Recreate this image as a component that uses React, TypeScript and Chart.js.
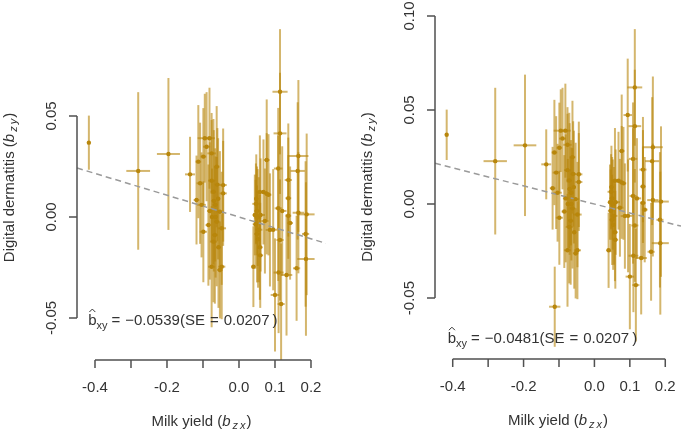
import React, { useEffect, useRef } from "react";
import { Chart, registerables } from "chart.js";
Chart.register(...registerables);

const FONT = '"Liberation Sans", Arial, Helvetica, sans-serif';
const TEXT = "#333333";
const AXIS = "#505050";
const BAR = "rgba(184,134,11,0.6)";
const DOT = "#b8860b";
const REG = "#9a9a9a";

// Shared instruments: milk yield effect (b_zx) and digital dermatitis effect (b_zy)
const milkYield = [
  -0.417, -0.28, -0.196,
  -0.136, -0.095, -0.082, -0.09, -0.076, -0.113, -0.099, -0.108, -0.118, -0.104,
  -0.062, -0.044, -0.044, -0.053, -0.062, -0.048, -0.099, -0.067, -0.076, -0.048,
  -0.053, -0.071, -0.076, -0.081, -0.085, -0.071, -0.066, -0.058, -0.075,
  -0.065, -0.057, -0.07, -0.06,
  0.114, 0.114, 0.165, 0.163, 0.077, 0.109, 0.137, 0.137, 0.058, 0.068, 0.077,
  0.109, 0.165, 0.188, 0.185, 0.186, 0.16, 0.132, 0.1, 0.117, 0.04, 0.086, 0.114,
  0.142, 0.137, 0.047, 0.05, 0.052, 0.046, 0.055, 0.05, 0.058, 0.06, 0.095, 0.12, 0.072,
  0.11, 0.059, 0.082, 0.048, 0.053, 0.044,
];
const milkYieldErr = [
  0.003, 0.033, 0.032,
  0.014, 0.02, 0.015, 0.01, 0.012, 0.008, 0.008, 0.01, 0.008, 0.012,
  0.008, 0.01, 0.01, 0.01, 0.008, 0.012, 0.01, 0.008, 0.01, 0.01,
  0.008, 0.008, 0.01, 0.008, 0.008, 0.01, 0.008, 0.006, 0.006,
  0.006, 0.006, 0.006, 0.008,
  0.021, 0.018, 0.028, 0.02, 0.008, 0.012, 0.01, 0.008, 0.01, 0.01, 0.008,
  0.01, 0.016, 0.022, 0.01, 0.024, 0.01, 0.016, 0.012, 0.01, 0.006, 0.012, 0.01,
  0.008, 0.008, 0.01, 0.008, 0.01, 0.008, 0.01, 0.008, 0.008, 0.012, 0.012, 0.012, 0.01,
  0.014, 0.008, 0.008, 0.006, 0.006, 0.006,
];
const dermatitis = [
  0.0368, 0.0228, 0.0312,
  0.0211, 0.039, 0.039, 0.0348, 0.0315, 0.0274, 0.0299, 0.0167, 0.0084, 0.006,
  0.0249, 0.0158, 0.0117, 0.0026, -0.0023, -0.0056, -0.0073, -0.0089, -0.0246, -0.0246,
  -0.0262, 0.0125, 0.018, 0.003, -0.004, -0.0122, 0.006, 0.009, 0.0,
  0.0, -0.015, 0.008, 0.016,
  0.062, 0.0414, 0.0302, 0.0228, 0.0282, 0.024, 0.0183, 0.0093, 0.0124, 0.0124, 0.0115,
  0.0043, 0.0021, 0.0013, -0.0084, -0.0208, -0.0254, -0.0287, -0.0386, -0.0431, -0.0246, -0.0064, -0.0114,
  -0.003, 0.0006, 0.0065, 0.003, -0.0003, -0.0036, -0.0063, -0.0084, -0.015, 0.001, -0.0063, 0.003, -0.002,
  -0.0275, -0.019, 0.011, 0.009, -0.011, 0.001,
];
const dermatitisErr = [
  0.0134, 0.039, 0.0376,
  0.0186, 0.022, 0.025, 0.027, 0.02, 0.028, 0.024, 0.03, 0.022, 0.026,
  0.03, 0.028, 0.026, 0.03, 0.032, 0.028, 0.025, 0.034, 0.03, 0.026,
  0.024, 0.036, 0.03, 0.034, 0.03, 0.03, 0.028, 0.03, 0.024,
  0.03, 0.03, 0.035, 0.028,
  0.031, 0.03, 0.0376, 0.034, 0.03, 0.03, 0.028, 0.03, 0.028, 0.026, 0.03,
  0.036, 0.03, 0.04, 0.036, 0.038, 0.026, 0.03, 0.028, 0.03, 0.02, 0.028, 0.03,
  0.028, 0.03, 0.02, 0.022, 0.024, 0.022, 0.026, 0.024, 0.026, 0.028, 0.03, 0.032, 0.026,
  0.03, 0.026, 0.03, 0.022, 0.024, 0.02,
];

// Instruments only present in the right panel
const extraMilkYield = [-0.112, 0.094];
const extraMilkYieldErr = [0.016, 0.012];
const extraDermatitis = [-0.0546, 0.0473];
const extraDermatitisErr = [0.0213, 0.03];

const xTicks = [-0.4, -0.3, -0.2, -0.1, 0, 0.1, 0.2];
const xTickLabels = ["-0.4", "", "-0.2", "", "0.0", "0.1", "0.2"];
const yTicksLeft = [-0.05, 0, 0.05];
const yTickLabelsLeft = ["-0.05", "0.00", "0.05"];
const yTicksRight = [-0.05, 0, 0.05, 0.1];
const yTickLabelsRight = ["-0.05", "0.00", "0.05", "0.10"];

const slopes = [-0.0539, -0.0481];
const slopeLabels = ["\u22120.0539", "\u22120.0481"];
const seLabels = ["0.0207", "0.0207"];

type Panel = {
  width: number;
  pad: { left: number; right: number; top: number; bottom: number };
  xMin: number; xMax: number; yMin: number; yMax: number;
  xs: number[]; xe: number[]; ys: number[]; ye: number[];
  slope: number; slopeLabel: string; seLabel: string;
  annoX: number; annoY: number;
  yTicks: number[]; yTickLabels: string[];
};

const PANELS: Panel[] = [
  {
    width: 345,
    pad: { left: 77, right: 19, top: 15, bottom: 71 },
    xMin: -0.45, xMax: 0.2417, yMin: -0.0708, yMax: 0.1,
    xs: milkYield, xe: milkYieldErr, ys: dermatitis, ye: dermatitisErr,
    slope: slopes[0], slopeLabel: slopeLabels[0], seLabel: seLabels[0],
    annoX: -0.419, annoY: -0.0535,
    yTicks: yTicksLeft, yTickLabels: yTickLabelsLeft,
  },
  {
    width: 340,
    pad: { left: 90, right: 0, top: 15, bottom: 72 },
    xMin: -0.45, xMax: 0.2444, yMin: -0.0824, yMax: 0.1005,
    xs: milkYield.concat(extraMilkYield), xe: milkYieldErr.concat(extraMilkYieldErr),
    ys: dermatitis.concat(extraDermatitis), ye: dermatitisErr.concat(extraDermatitisErr),
    slope: slopes[1], slopeLabel: slopeLabels[1], seLabel: seLabels[1],
    annoX: -0.414, annoY: -0.074,
    yTicks: yTicksRight, yTickLabels: yTickLabelsRight,
  },
];

function drawPieces(ctx: CanvasRenderingContext2D, pieces: { t: string; f: string; dy: number; gap?: number }[], cx: number, cy: number) {
  let total = 0;
  for (const p of pieces) { ctx.font = p.f; total += ctx.measureText(p.t).width + (p.gap || 0); }
  let x = cx - total / 2;
  ctx.textAlign = "left";
  ctx.textBaseline = "middle";
  for (const p of pieces) {
    ctx.font = p.f;
    ctx.fillText(p.t, x, cy + p.dy);
    x += ctx.measureText(p.t).width + (p.gap || 0);
  }
}

function buildChart(canvas: HTMLCanvasElement, p: Panel) {
  const points = p.xs.map((x, i) => ({ x, y: p.ys[i] }));
  const reg = [
    { x: p.xMin, y: p.slope * p.xMin },
    { x: p.xMax, y: p.slope * p.xMax },
  ];
  const errorBars = {
    id: "errorBars",
    beforeDatasetsDraw(chart: any) {
      const { ctx, chartArea: a, scales } = chart;
      const sx = scales.x, sy = scales.y;
      ctx.save();
      ctx.beginPath();
      ctx.rect(a.left, a.top, a.right - a.left, a.bottom - a.top);
      ctx.clip();
      ctx.strokeStyle = BAR;
      ctx.lineWidth = 2;
      for (let i = 0; i < p.xs.length; i++) {
        const px = sx.getPixelForValue(p.xs[i]);
        const py = sy.getPixelForValue(p.ys[i]);
        ctx.beginPath();
        ctx.moveTo(sx.getPixelForValue(p.xs[i] - p.xe[i]), py);
        ctx.lineTo(sx.getPixelForValue(p.xs[i] + p.xe[i]), py);
        ctx.stroke();
        ctx.beginPath();
        ctx.moveTo(px, sy.getPixelForValue(p.ys[i] - p.ye[i]));
        ctx.lineTo(px, sy.getPixelForValue(p.ys[i] + p.ye[i]));
        ctx.stroke();
      }
      ctx.restore();
    },
  };
  const axes = {
    id: "rAxes",
    afterDraw(chart: any) {
      const { ctx, chartArea: a, scales } = chart;
      const sx = scales.x, sy = scales.y;
      ctx.save();
      ctx.strokeStyle = AXIS;
      ctx.lineWidth = 1.5;
      ctx.fillStyle = TEXT;
      // y axis
      const y0 = sy.getPixelForValue(p.yTicks[0]);
      const y1 = sy.getPixelForValue(p.yTicks[p.yTicks.length - 1]);
      ctx.beginPath();
      ctx.moveTo(a.left, y0); ctx.lineTo(a.left, y1);
      for (const t of p.yTicks) {
        const py = sy.getPixelForValue(t);
        ctx.moveTo(a.left, py); ctx.lineTo(a.left - 8, py);
      }
      ctx.stroke();
      ctx.font = `15px ${FONT}`;
      p.yTicks.forEach((t, i) => {
        const py = sy.getPixelForValue(t);
        ctx.save();
        ctx.translate(a.left - 25, py);
        ctx.rotate(-Math.PI / 2);
        ctx.textAlign = "center";
        ctx.textBaseline = "middle";
        ctx.fillText(p.yTickLabels[i], 0, 0);
        ctx.restore();
      });
      // x axis
      const x0 = sx.getPixelForValue(xTicks[0]);
      const x1 = sx.getPixelForValue(xTicks[xTicks.length - 1]);
      ctx.beginPath();
      ctx.moveTo(x0, a.bottom); ctx.lineTo(x1, a.bottom);
      for (const t of xTicks) {
        const px = sx.getPixelForValue(t);
        ctx.moveTo(px, a.bottom); ctx.lineTo(px, a.bottom + 8);
      }
      ctx.stroke();
      ctx.textAlign = "center";
      ctx.textBaseline = "middle";
      xTicks.forEach((t, i) => {
        if (!xTickLabels[i]) return;
        ctx.fillText(xTickLabels[i], sx.getPixelForValue(t), a.bottom + 28);
      });
      // x title
      const n = `15px ${FONT}`, it = `italic 15px ${FONT}`, sub = `italic 11px ${FONT}`;
      drawPieces(ctx, [
        { t: "Milk yield (", f: n, dy: 0 },
        { t: "b", f: it, dy: 0, gap: 2 },
        { t: "z", f: sub, dy: 4, gap: 2 },
        { t: "x", f: sub, dy: 4, gap: 1 },
        { t: ")", f: n, dy: 0 },
      ], (a.left + a.right) / 2, a.bottom + 62);
      // y title
      ctx.save();
      ctx.translate(a.left - 67, (a.top + a.bottom) / 2);
      ctx.rotate(-Math.PI / 2);
      drawPieces(ctx, [
        { t: "Digital dermatitis (", f: n, dy: 0 },
        { t: "b", f: it, dy: 0, gap: 2 },
        { t: "z", f: sub, dy: 4, gap: 2 },
        { t: "y", f: sub, dy: 4, gap: 1 },
        { t: ")", f: n, dy: 0 },
      ], 0, 0);
      ctx.restore();
      // estimate annotation
      let tx = sx.getPixelForValue(p.annoX);
      const ty = sy.getPixelForValue(p.annoY);
      ctx.textAlign = "left";
      ctx.textBaseline = "alphabetic";
      ctx.font = n;
      ctx.fillText("b", tx, ty);
      const bw = ctx.measureText("b").width;
      ctx.beginPath();
      ctx.lineWidth = 1;
      ctx.strokeStyle = TEXT;
      ctx.moveTo(tx + bw / 2 - 3, ty - 13);
      ctx.lineTo(tx + bw / 2, ty - 16);
      ctx.lineTo(tx + bw / 2 + 3, ty - 13);
      ctx.stroke();
      tx += bw;
      ctx.font = `11px ${FONT}`;
      ctx.fillText("xy", tx, ty + 4);
      tx += ctx.measureText("xy").width + 4;
      ctx.font = n;
      const rest = ["=", p.slopeLabel + "(SE", "=", p.seLabel, ")"];
      const gaps = [5, 5, 5, 3, 0];
      rest.forEach((s, i) => {
        ctx.fillText(s, tx, ty);
        tx += ctx.measureText(s).width + gaps[i];
      });
      ctx.restore();
    },
  };
  return new Chart(canvas, {
    type: "scatter",
    data: {
      datasets: [
        {
          data: points,
          pointRadius: 2.2,
          pointBackgroundColor: DOT,
          pointBorderWidth: 0,
          showLine: false,
        },
        {
          data: reg,
          showLine: true,
          borderColor: REG,
          borderWidth: 1.5,
          borderDash: [6, 4],
          pointRadius: 0,
          fill: false,
        },
      ],
    },
    options: {
      responsive: false,
      animation: false,
      events: [],
      layout: { padding: p.pad },
      plugins: { legend: { display: false }, tooltip: { enabled: false }, title: { display: false } },
      scales: {
        x: { type: "linear", min: p.xMin, max: p.xMax, display: false },
        y: { type: "linear", min: p.yMin, max: p.yMax, display: false },
      },
    },
    plugins: [errorBars, axes],
  } as any);
}

export default function App() {
  const leftRef = useRef<HTMLCanvasElement>(null);
  const rightRef = useRef<HTMLCanvasElement>(null);
  useEffect(() => {
    const canvases = [leftRef.current!, rightRef.current!];
    const charts = PANELS.map((p, i) => buildChart(canvases[i], p));
    return () => charts.forEach((c) => c.destroy());
  }, []);
  return (
    <div style={{ position: "fixed", left: 0, top: 0, width: 685, height: 431, background: "#fff", display: "flex" }}>
      <canvas ref={leftRef} width={345} height={431} style={{ display: "block", width: 345, height: 431 }} />
      <canvas ref={rightRef} width={340} height={431} style={{ display: "block", width: 340, height: 431 }} />
    </div>
  );
}
